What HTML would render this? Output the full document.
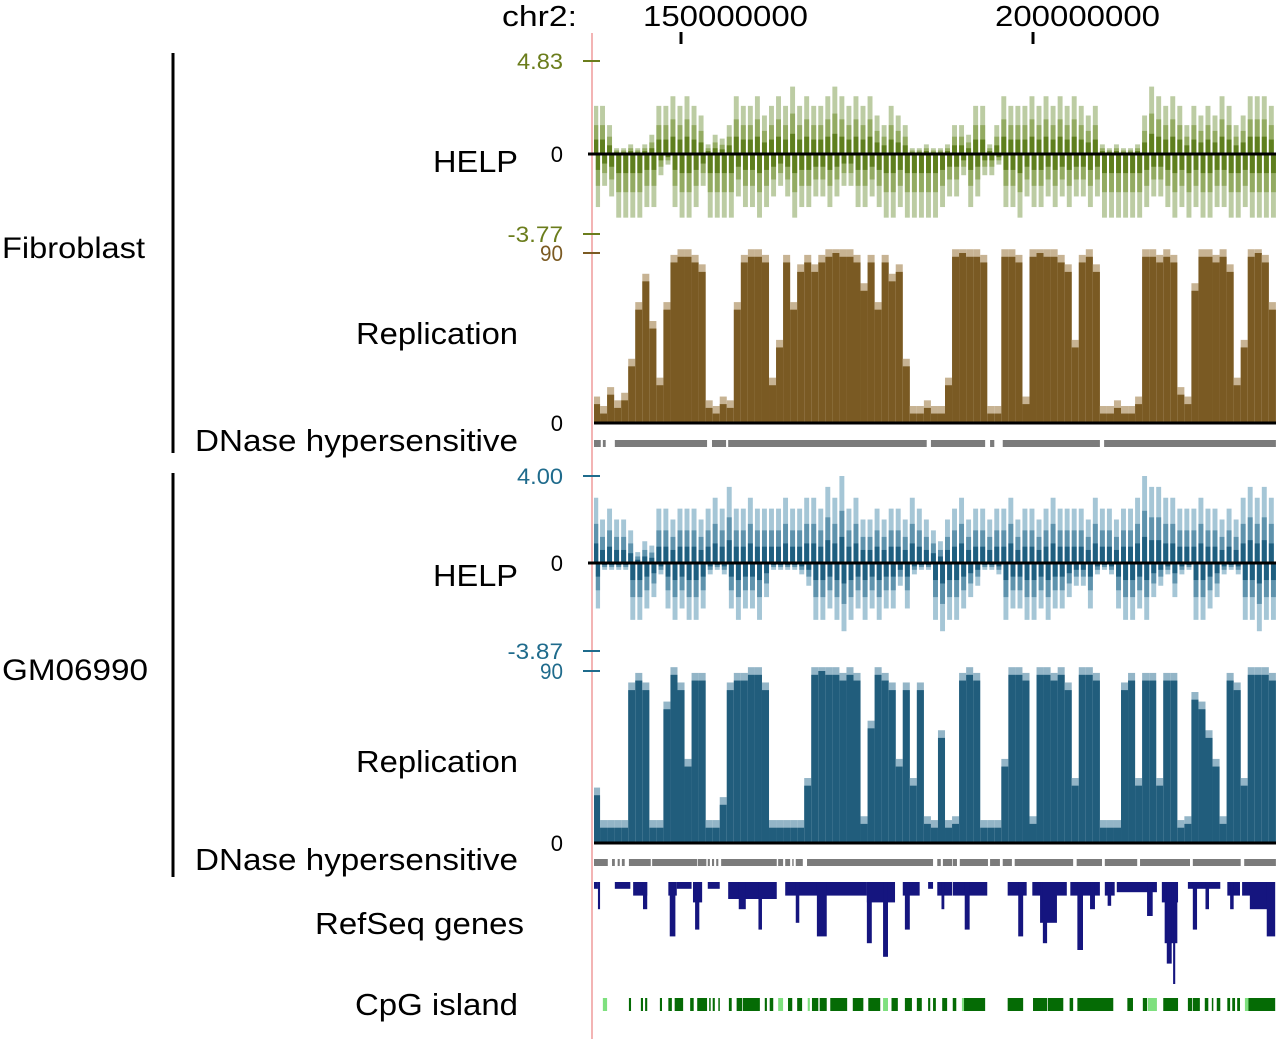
<!DOCTYPE html>
<html><head><meta charset="utf-8">
<style>
html,body{margin:0;padding:0;background:#fff;}
svg{display:block;font-family:"Liberation Sans",Arial,sans-serif;}
</style></head>
<body>
<svg id="chart" width="1280" height="1039" viewBox="0 0 1280 1039" xmlns="http://www.w3.org/2000/svg">
  <rect x="0" y="0" width="1280" height="1039" fill="#fff"/>
  <line x1="592" y1="33" x2="592" y2="1039" stroke="#f3b4b4" stroke-width="2"/>
  <text x="502" y="26" font-size="29" textLength="75" lengthAdjust="spacingAndGlyphs" fill="#000">chr2:</text>
  <g id="xaxis"></g>
  <line x1="173" y1="53" x2="173" y2="453" stroke="#000" stroke-width="3"/>
  <line x1="173" y1="473" x2="173" y2="877" stroke="#000" stroke-width="3"/>
  <text x="2" y="258" font-size="30" textLength="143" lengthAdjust="spacingAndGlyphs" fill="#000">Fibroblast</text>
  <text x="2" y="680" font-size="30" textLength="146" lengthAdjust="spacingAndGlyphs" fill="#000">GM06990</text>
  <text x="433" y="172" font-size="31" textLength="85" lengthAdjust="spacingAndGlyphs">HELP</text>
  <text x="356" y="344" font-size="31" textLength="162" lengthAdjust="spacingAndGlyphs">Replication</text>
  <text x="195" y="451" font-size="31" textLength="323" lengthAdjust="spacingAndGlyphs">DNase hypersensitive</text>
  <text x="433" y="586" font-size="31" textLength="85" lengthAdjust="spacingAndGlyphs">HELP</text>
  <text x="356" y="772" font-size="31" textLength="162" lengthAdjust="spacingAndGlyphs">Replication</text>
  <text x="195" y="870" font-size="31" textLength="323" lengthAdjust="spacingAndGlyphs">DNase hypersensitive</text>
  <text x="315" y="934" font-size="31" textLength="209" lengthAdjust="spacingAndGlyphs">RefSeq genes</text>
  <text x="355" y="1015" font-size="31" textLength="163" lengthAdjust="spacingAndGlyphs">CpG island</text>
  <g id="tracks"></g>
</svg>
<script>
// ---- data (Mb positions, chr2) ----
const xTicks = [150, 200];
const xTickLabels = ["150000000", "200000000"];
const binStart = 138; // first 1-Mb bin
const fibHelpPos = [2.5,2.5,1.5, 0.3,0.3,0.5,0.3,0.5,1.0, 2.5,2.5,3,2.5,3,2.5,2, 0.5,1,0.8,1.5, 3,2.5,2.5,3,2, 2.5,3,2.5,3.5,2.5,3,2.5,2.5, 3,3.5,3,2.5,3,2.5,3, 2,1.5,2.5,2,1.5, 0.3,0.3,0.5,0.3,0.3,0.5, 1.5,1.5,1,2.5,2.5, 0.5,1.5, 3,2.5,2.5,2.5, 3,2.5,3,2.5,3,2.5, 3,2.5,2,2.5, 0.5,0.3,0.5,0.3,0.3,0.5, 2,3.5,3,2.5,3,2.5,1.5, 2.5,2,2.5,2,3,2.5, 1.5,2, 3,3,3,2.5];
const fibHelpNeg = [2.5,1.5,2, 3,3,3,3,2.5,2.5, 1,0.5,2.5,3,3,2.5,1.5, 3,3,3,3, 2,2.5,2.5,3,2.5, 2,1.5,2,3,2.5,2.5,2,2, 2.5,2,1.5,1.5,2.5,2.5,2, 2.5,3,3,2.5,3, 3,3,3,3,2.5,2, 2,1,2.5,2,1, 1,0.5, 2.5,2.5,3,2, 2.5,2.5,2,2.5,2,2.5, 2,2,2.5,2, 3,3,3,3,3,3, 2.5,2,2,2.5,3,2.5,3, 2.5,3,3,2.5,2.5,3, 3,2.5, 3,3,3,3];
const fibRepl = [10,5,15,8,12, 30,60,75,50,20, 60,85,88,88,85,80, 8,5,10,8, 60,85,88,88,85, 20,40,85,60,80,85,80,85, 88,90,88,88,85, 70,85,60,85,75,80,30, 5,5,8,5,5,20, 88,90,88,88,85, 5,5, 88,88,85,10, 88,90,88,88,85,80, 40,85,88,80, 5,5,8,5,5,10, 88,88,85,88,85,15,10, 70,88,88,85,88,80,20,40, 88,90,85,60];
const gmHelpPos = [3,2,2.5,2,2, 1.5,0.5,1,0.8, 2.5,2.5,2,2.5,2.5,2.5,2, 2.5,3,2.5,3.5,2.5,2.5,3,2.5,2.5, 2.5,2.5,3,2.5,2.5,3, 3,2.5,3.5,3,4,2.5,3,2,2,2.5,2,2.5, 2.5,2,3,2.5,2, 1.5,1,2,2.5,3,2,2.5, 2.5,2,2.5, 2.5,3,2,2.5,2.5,2,2.5,3,2.5,2.5, 2.5,2.5,2,3,2.5,2.5, 2,2.5,2.5,3,4,3.5, 3.5,3,3,2.5,2.5, 2.5,3,2.5,2.5, 2,2.5,2, 3,3.5,3,3.5,3];
const gmHelpNeg = [2,0.3,0.3,0.3,0.3, 2.5,2.5,2,1.5, 0.5, 2,2.5,2,2.5,2.5,2, 0.5,0.3,0.5, 2,2.5,2,2,2.5,1.5, 0.3,0.3,0.3,0.3,0.5,1, 2.5,2.5,2,2.5,3,2.5,2,2.5,2,2.5,2,2, 1,2,0.5,0.3,0.3, 2.5,3,2.5,2.5,2,1.5,1, 0.3,0.3,0.5, 2.5,2,2,2.5,2.5,2,2.5,2,2,1.5, 1,1,2,0.5,0.3,0.5, 2,2.5,2.5,2,2.5,1.5, 1,0.5,1.5,0.5,0.3, 2.5,2.5,2,1.5, 0.5,0.3,0.5, 2.5,2.5,3,2.5,2.5];
const gmRepl = [25,8,8,8,8, 80,85,80,8,8, 70,88,80,40,85,85, 8,8,20, 80,85,85,88,88,80, 8,8,8,8,8,30, 88,90,88,88,85,88,85, 10,60,88,85,80,40,80,30,80, 10,8,55,8,10, 85,88,85,8,8,8, 40,88,88,85, 10,88,88,85,88,80, 30,88,88,85, 8,8,8,80,85, 30,85,85,30,85,85, 8,10,75,70,55,40, 10,85,80, 30,88,88,88,85];
const fibDnase = [[137.64,138.6],[138.9,139.3],[140.6,153.7],[154.4,156.4],[156.7,184.9],[185.5,193.2],[193.9,194.5],[195.7,209.5],[210.1,234.5]];
const gmDnase = [[137.6,139.6],[140.2,140.6],[141.0,141.3],[141.6,142.0],[142.6,145.7],[145.9,152.3],[152.4,153.6],[153.8,154.1],[154.4,154.7],[155.0,155.3],[155.7,163.6],[163.8,164.5],[164.8,165.5],[165.8,166.0],[166.3,167.3],[167.9,185.8],[186.4,186.9],[187.2,188.5],[188.6,189.2],[189.6,193.6],[193.9,195.3],[195.7,197.0],[197.4,205.7],[206.2,209.8],[210.2,214.8],[215.2,222.3],[222.7,229.5],[230.0,234.5]];
const genes = [[137.6,138.2,1],[138.2,138.5,4],[140.6,142.8,1],[143.2,145.2,2],[144.6,145.2,4],[148.2,149.4,2],[148.4,149.2,8],[149.4,151.5,1],[151.7,153.0,3],[152.0,152.6,7],[153.8,155.5,1],[156.7,163.6,2.5],[158.2,159.2,4],[161.0,161.5,7],[164.8,176.4,2],[166.3,166.8,6],[169.3,170.7,8],[176.4,177.1,9],[176.4,180.4,3],[178.7,179.4,11],[181.5,183.9,2],[181.8,182.5,7],[185.1,185.8,1],[186.4,188.5,2],[187.0,187.4,4],[188.6,193.5,2],[190.3,191.0,7],[196.4,199.1,2],[197.9,198.6,8],[199.9,204.8,2],[201.0,203.4,6],[201.4,202.0,9],[205.3,209.5,2],[206.3,207.1,10],[208.1,208.8,4],[210.2,211.6,2],[210.6,211.1,3.5],[211.9,217.6,1.5],[216.2,217.0,5],[218.3,220.6,3],[218.7,220.5,9],[219.0,219.7,12],[219.9,220.2,15],[222.0,226.6,1],[222.7,223.3,7],[224.5,225.0,4],[227.6,229.4,2],[228.0,228.5,4],[229.7,234.1,2],[230.8,234.1,4],[233.2,234.4,8]];
const cpg = [[138.9,139.5,1],[142.6,142.9,0],[144.3,144.6,0],[144.9,145.2,0],[147.0,147.3,0],[148.2,148.7,0],[149.1,150.3,0],[151.3,151.8,0],[152.3,153.7,0],[154.0,154.1,0],[154.5,154.8,0],[155.3,155.4,0],[156.8,157.2,0],[157.9,158.7,0],[158.8,161.2,0],[161.9,162.2,0],[162.6,163.1,0],[163.8,164.5,1],[165.2,165.8,0],[166.5,167.2,0],[168.0,168.3,1],[168.6,169.5,0],[169.7,170.7,0],[171.2,173.6,0],[174.4,175.9,0],[176.6,178.3,0],[178.7,179.4,1],[179.9,180.8,0],[181.8,182.8,0],[183.5,184.2,0],[185.1,185.4,0],[185.8,186.2,0],[187.1,187.8,0],[188.6,189.1,0],[189.9,190.2,1],[190.2,193.2,0],[196.4,198.6,0],[200.0,202.0,0],[202.1,204.3,0],[205.2,205.7,0],[206.3,211.4,0],[213.4,214.2,0],[215.6,216.2,0],[216.3,217.6,1],[218.5,220.6,0],[222.0,222.6,0],[222.7,223.7,0],[224.4,224.9,0],[225.4,225.6,0],[226.1,226.6,0],[227.6,228.0,0],[228.3,228.7,0],[229.0,229.4,0],[230.1,230.6,1],[230.6,234.4,0]];

const X0 = 594, X1 = 1276, PX_PER_MB = 7.04, MB0 = 137.64;
function xs(mb){ return Math.max(X0, Math.min(X1, X0 + (mb - MB0) * PX_PER_MB)); }
function helpY(v, zero, upPx, upMax, downPx, downMax){
  return v >= 0 ? zero - v / upMax * upPx : zero + (-v) / downMax * downPx;
}
const NS = "http://www.w3.org/2000/svg";
const tracks = document.getElementById('tracks');
function mk(tag, attrs, parent){
  const el = document.createElementNS(NS, tag);
  for (const k in attrs) el.setAttribute(k, attrs[k]);
  (parent || tracks).appendChild(el);
  return el;
}

const xaxis = document.getElementById('xaxis');
xTicks.forEach((t, i) => {
  const tk = mk('line', {x1: xs(t), x2: xs(t), y1: 32, y2: 44, stroke: '#000', 'stroke-width': 3}, xaxis);
  
  
  const lb = mk('text', {x: xs(t) - 38, y: 26, 'font-size': 29, textLength: 165, lengthAdjust: 'spacingAndGlyphs'}, xaxis);
  
  
  lb.textContent = xTickLabels[i];
});

function yLabel(txt, y, color, name){
  const w = txt.length * 11.5 + (txt[0] === '-' ? -2 : 0);
  const t = mk('text', {x: 563 - w, y: y + 8, 'font-size': 22, fill: color, textLength: w, lengthAdjust: 'spacingAndGlyphs'});
  
  
  t.textContent = txt;
  const l = mk('line', {x1: 583, x2: 600, y1: y, y2: y, stroke: color, 'stroke-width': 2});
  
  
}
function zeroLabel(y, name){
  const t = mk('text', {x: 563, y: y + 8, 'font-size': 22, 'text-anchor': 'end', fill: '#000'});
  
  
  t.textContent = '0';
}

function drawHelp(pos, neg, zero, upPx, upMax, downPx, downMax, cols, prefix){
  const layers = [[1, cols[0]], [0.6, cols[1]], [0.3, cols[2]]];
  pos.forEach((v, i) => {
    const a = xs(binStart + i - 0.5), b = xs(binStart + i + 0.5);
    const w = Math.max(0, (b - a) * 0.7);
    layers.forEach(([f, c]) => {
      const y = helpY(v * f, zero, upPx, upMax, downPx, downMax);
      const r = mk('rect', {x: a, y: y, width: w, height: zero - y, fill: c});
      
      
    });
  });
  neg.forEach((v, i) => {
    const a = xs(binStart + i - 0.5), b = xs(binStart + i + 0.5);
    const w = Math.max(0, (b - a) * 0.7);
    layers.forEach(([f, c]) => {
      const y = helpY(-v * f, zero, upPx, upMax, downPx, downMax);
      const r = mk('rect', {x: a + (b - a) * 0.3, y: zero, width: w, height: y - zero, fill: c});
      
      
    });
  });
  const z = mk('line', {x1: 588, x2: X1, y1: zero, y2: zero, stroke: '#000', 'stroke-width': 3});
  
  
}
function drawRepl(vals, y0, y90, dark, light, prefix){
  const s = (y0 - y90) / 90;
  vals.forEach((v, i) => {
    const a = xs(binStart + i - 0.5), b = xs(binStart + i + 0.5);
    const cap = Math.min(92, v + 4);
    const r1 = mk('rect', {x: a, y: y0 - cap * s, width: Math.max(0, b - a), height: cap * s, fill: light});
    
    
    const r = mk('rect', {x: a, y: y0 - v * s, width: Math.max(0, b - a), height: v * s, fill: dark});
    
    
  });
  const z = mk('line', {x1: X0, x2: X1, y1: y0, y2: y0, stroke: '#000', 'stroke-width': 3});
  
  
}
function drawSegs(segs, y, h, prefix){
  segs.forEach(s => {
    const r = mk('rect', {x: xs(s[0]), y: y, width: Math.max(1, xs(s[1]) - xs(s[0])), height: h, fill: '#7b7b7b'});
    
    
  });
}

yLabel('4.83', 61, '#6b7d1c', 'fib-help-max-label');
zeroLabel(154, 'fib-help-zero-label');
yLabel('-3.77', 234, '#6b7d1c', 'fib-help-min-label');
drawHelp(fibHelpPos, fibHelpNeg, 154, 93, 4.83, 80, 3.77, ['#bccca3', '#93ab62', '#5f7f1e'], 'fib-help');
yLabel('90', 253, '#7b5a22', 'fib-repl-max-label');
zeroLabel(423, 'fib-repl-zero-label');
drawRepl(fibRepl, 423, 253, '#7a5a23', '#c7b393', 'fib-repl');
drawSegs(fibDnase, 440, 7, 'fib-dnase');

yLabel('4.00', 476, '#1f6b8c', 'gm-help-max-label');
zeroLabel(563, 'gm-help-zero-label');
yLabel('-3.87', 651, '#1f6b8c', 'gm-help-min-label');
drawHelp(gmHelpPos, gmHelpNeg, 563, 87, 4.0, 88, 3.87, ['#a5c6d6', '#5f93ad', '#1f5f80'], 'gm-help');
yLabel('90', 671, '#1f6b8c', 'gm-repl-max-label');
zeroLabel(843, 'gm-repl-zero-label');
drawRepl(gmRepl, 843, 671, '#215d7c', '#93b5c7', 'gm-repl');
drawSegs(gmDnase, 859, 7, 'gm-dnase');

const ROW_H = 6.8;
genes.forEach(g => {
  const r = mk('rect', {x: xs(g[0]), y: 882, width: Math.max(2, xs(g[1]) - xs(g[0])), height: g[2] * ROW_H, fill: '#15157f'});
  
  
});

cpg.forEach(c => {
  const r = mk('rect', {x: xs(c[0]), y: 998, width: Math.max(1.5, xs(c[1]) - xs(c[0])), height: 13, fill: c[2] ? '#7fe07f' : '#056b05'});
  
  
});
</script>
</body></html>
